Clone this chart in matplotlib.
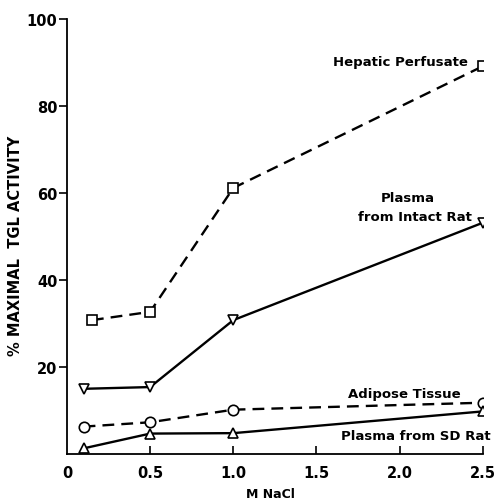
import matplotlib
matplotlib.use("Agg")
import matplotlib.pyplot as plt

# Data
hep_x = [0.15, 0.5, 1.0, 2.5]
hep_y = [30.8, 32.7, 61.2, 89.2]
intact_x = [0.1, 0.5, 1.0, 2.5]
intact_y = [15.0, 15.4, 30.8, 53.2]
adipose_x = [0.1, 0.5, 1.0, 2.5]
adipose_y = [6.3, 7.3, 10.2, 11.8]
sd_x = [0.1, 0.5, 1.0, 2.5]
sd_y = [1.3, 4.7, 4.8, 9.8]

xticks = [0, 0.5, 1.0, 1.5, 2.0, 2.5]
xticklabels = ["0", "0.5", "1.0", "1.5", "2.0", "2.5"]
yticks = [20, 40, 60, 80, 100]
yticklabels = ["20", "40", "60", "80", "100"]

plt.rcParams['font.family'] = ['DejaVu Sans']
fig = plt.figure(figsize=(4.98, 5.02), dpi=100)
ax = fig.add_axes([0.1345, 0.0936, 0.835, 0.866])

dash = (0, (5, 3))
mk = dict(markerfacecolor='white', markeredgecolor='black', markeredgewidth=1.2, markersize=7.5)
ax.plot(hep_x, hep_y, color='black', lw=1.7, linestyle=dash, marker='s', **mk)
ax.plot(intact_x, intact_y, color='black', lw=1.7, linestyle='-', marker='v', **mk)
ax.plot(adipose_x, adipose_y, color='black', lw=1.7, linestyle=dash, marker='o', **mk)
ax.plot(sd_x, sd_y, color='black', lw=1.7, linestyle='-', marker='^', **mk)

tf = dict(fontsize=9.5, fontweight='bold', color='black')
ax.text(2.41, 90.3, "Hepatic Perfusate", ha='right', va='center', **tf)
ax.text(2.05, 59.0, "Plasma", ha='center', va='center', **tf)
ax.text(2.09, 54.6, "from Intact Rat", ha='center', va='center', **tf)
ax.text(2.03, 14.0, "Adipose Tissue", ha='center', va='center', **tf)
ax.text(2.10, 4.3, "Plasma from SD Rat", ha='center', va='center', **tf)

ax.set_xlim(0, 2.5)
ax.set_ylim(0, 100)
ax.set_xticks(xticks)
ax.set_xticklabels(xticklabels, fontsize=10.5, fontweight='bold')
ax.set_yticks(yticks)
ax.set_yticklabels(yticklabels, fontsize=10.5, fontweight='bold')
ax.tick_params(axis='x', direction='in', length=6, width=1.2, pad=8)
ax.tick_params(axis='y', direction='out', length=6, width=1.2, pad=1)
ax.xaxis.get_major_ticks()[0].tick1line.set_visible(False)

for s in ['top', 'right']:
    ax.spines[s].set_visible(False)
for s in ['left', 'bottom']:
    ax.spines[s].set_linewidth(1.3)

ax.set_xlabel("M NaCl", fontsize=9, fontweight='bold')
ax.xaxis.set_label_coords(0.49, -0.075)
ax.set_ylabel("% MAXIMAL  TGL ACTIVITY", fontsize=10.5, fontweight='bold')
ax.yaxis.set_label_coords(-0.105, 0.48)

fig.savefig("out.png", dpi=100)
